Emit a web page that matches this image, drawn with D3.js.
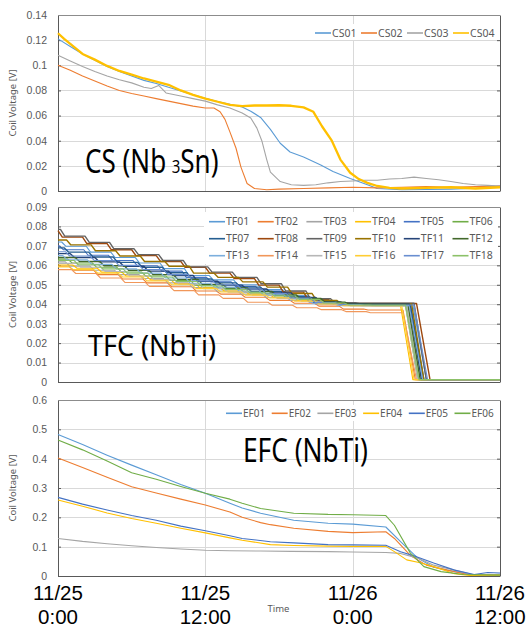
<!DOCTYPE html>
<html>
<head>
<meta charset="utf-8">
<script src="https://cdn.jsdelivr.net/npm/d3@7"></script>
<style>
  body { margin: 0; background: #fff; }
  svg { display: block; font-family: "Noto Sans", "DejaVu Sans", sans-serif; }
</style>
</head>
<body>
<div id="chart"></div>
<script>
// time axis: hours from 11/25 0:00
const xTickHours = [0, 12, 24, 36];
const xTickLabels = [["11/25", "0:00"], ["11/25", "12:00"], ["11/26", "0:00"], ["11/26", "12:00"]];

// ---- CS coils (Nb3Sn) : [hour, volt]
const csNames = ["CS01", "CS02", "CS03", "CS04"];
const csColors = ["#5B9BD5", "#ED7D31", "#A5A5A5", "#FFC000"];
const csYTicks = [0, 0.02, 0.04, 0.06, 0.08, 0.1, 0.12, 0.14];
const cs01 = [[0,.121],[1,.115],[2,.109],[3,.104],[4,.099],[5,.095],[6,.0915],[7,.088],[8,.0855],[9,.0825],[10,.0795],[11,.0765],[12,.0738],[13,.0712],[14,.069],[15,.0668],[15.7,.0635],[16.5,.0585],[17.3,.049],[18.1,.038],[18.9,.031],[20,.027],[21.4,.0207],[22.4,.0155],[23.8,.010],[25.2,.005],[26,.002],[28,.001],[30,.0012],[32,.0015],[34,.0022],[35,.003],[36,.004]];
const cs02 = [[0,.100],[0.5,.098],[1,.096],[2,.0915],[3,.0875],[4,.0835],[5,.080],[6,.0775],[7,.0755],[8,.0735],[9,.0715],[10,.0695],[11,.0675],[12,.066],[12.7,.066],[13.2,.063],[13.6,.057],[14,.047],[14.5,.034],[14.9,.019],[15.4,.006],[16,.002],[17,.001],[18,.0015],[20,.002],[22,.0025],[24,.003],[26,.0025],[28,.003],[30,.0035],[32,.003],[34,.0035],[36,.004]];
const cs03 = [[0,.108],[1,.1035],[2,.099],[3,.095],[4,.0915],[5,.0885],[6,.086],[7,.0825],[7.6,.0815],[8.2,.084],[8.8,.078],[9.5,.0765],[10,.0755],[11,.0735],[12,.0715],[13,.0685],[14,.066],[15,.062],[15.7,.058],[16.2,.050],[16.6,.040],[17,.025],[17.3,.015],[18.1,.0075],[19,.005],[20,.0045],[21,.005],[22,.0065],[23,.0075],[24,.008],[25,.0085],[26,.0085],[27,.0095],[28,.010],[29,.011],[30,.010],[31,.009],[32,.0075],[33,.006],[34,.005],[35,.0045],[36,.004]];
const cs04 = [[0,.1255],[0.5,.121],[1,.117],[2,.109],[3,.1045],[4,.0995],[5,.0955],[6,.0925],[7,.0895],[8,.087],[9,.0845],[10,.080],[11,.0765],[12,.0735],[13,.071],[14,.0685],[15,.0675],[16,.068],[17,.068],[18,.0682],[19,.0678],[20,.0665],[20.8,.063],[21.5,.0515],[22.3,.040],[23,.025],[23.8,.0145],[24.5,.0095],[25.2,.0065],[26,.004],[27,.0025],[28,.002],[30,.0025],[32,.003],[34,.002],[36,.003]];

// ---- TF coils (NbTi) : staircase values at tfHours, then drop
const tfNames = ["TF01","TF02","TF03","TF04","TF05","TF06","TF07","TF08","TF09","TF10","TF11","TF12","TF13","TF14","TF15","TF16","TF17","TF18"];
const tfColors = ["#5B9BD5","#ED7D31","#A5A5A5","#FFC000","#4472C4","#70AD47","#255E91","#9E480E","#636363","#997300","#264478","#43682B","#7CAFDD","#F1975A","#B7B7B7","#FFCD33","#698ED0","#8CC168"];
const tfYTicks = [0, 0.01, 0.02, 0.03, 0.04, 0.05, 0.06, 0.07, 0.08, 0.09];
const tfHours = [0, 2, 4, 6, 8, 10, 12, 14, 16, 18, 20, 22, 24, 26];
const tf01 = [.0720,.0698,.0668,.0640,.0612,.0583,.0548,.0525,.0500,.0475,.0445,.0415,.0400,.0398];
const tf02 = [.0595,.0575,.0552,.0530,.0510,.0490,.0468,.0452,.0436,.0420,.0405,.0390,.0375,.0370];
const tf03 = [.0618,.0596,.0575,.0552,.0532,.0510,.0486,.0468,.0452,.0436,.0420,.0402,.0393,.0392];
const tf04 = [.0602,.0585,.0565,.0545,.0525,.0505,.0485,.0468,.0452,.0436,.0420,.0404,.0395,.0393];
const tf05 = [.0700,.0680,.0652,.0625,.0598,.0570,.0538,.0515,.0492,.0468,.0440,.0412,.0400,.0399];
const tf06 = [.0632,.0612,.0590,.0566,.0545,.0522,.0498,.0480,.0462,.0445,.0428,.0408,.0398,.0397];
const tf07 = [.0690,.0668,.0643,.0615,.0590,.0562,.0530,.0510,.0488,.0465,.0438,.0410,.0401,.0400];
const tf08 = [.0778,.0745,.0712,.0680,.0650,.0620,.0590,.0560,.0532,.0498,.0462,.0425,.0406,.0404];
const tf09 = [.0785,.0750,.0718,.0685,.0655,.0625,.0592,.0565,.0538,.0505,.0468,.0428,.0408,.0405];
const tf10 = [.0730,.0705,.0675,.0648,.0620,.0595,.0560,.0538,.0515,.0488,.0455,.0420,.0403,.0402];
const tf11 = [.0660,.0640,.0618,.0595,.0570,.0548,.0518,.0498,.0478,.0458,.0435,.0412,.0403,.0402];
const tf12 = [.0640,.0620,.0598,.0575,.0552,.0528,.0502,.0484,.0466,.0448,.0430,.0410,.0400,.0399];
const tf13 = [.0650,.0628,.0605,.0582,.0560,.0535,.0508,.0488,.0468,.0448,.0428,.0405,.0395,.0393];
const tf14 = [.0578,.0558,.0535,.0512,.0492,.0470,.0448,.0430,.0410,.0395,.0382,.0372,.0362,.0356];
const tf15 = [.0610,.0590,.0568,.0545,.0525,.0503,.0480,.0462,.0446,.0430,.0415,.0400,.0391,.0390];
const tf16 = [.0592,.0578,.0560,.0540,.0520,.0500,.0480,.0463,.0447,.0432,.0416,.0402,.0393,.0392];
const tf17 = [.0670,.0648,.0625,.0600,.0578,.0552,.0520,.0500,.0478,.0455,.0432,.0408,.0398,.0396];
const tf18 = [.0625,.0603,.0582,.0560,.0540,.0517,.0494,.0476,.0458,.0442,.0425,.0406,.0396,.0395];
// per-coil step offset (h) so the stairs do not all line up
const tfStepShift = [0.3,0.9,0.6,1.2,0.1,0.8,0.5,0,0.2,0.7,1.0,1.4,0.4,1.1,1.5,0.9,0.6,1.3];
const tfDropStart = [28.9,28.1,28.4,27.9,28.7,28.3,28.7,29.2,29.0,28.8,28.6,28.5,28.6,28.1,28.3,28.0,29.0,28.3];
const tfDropEnd   = [30.0,29.1,29.4,28.9,29.7,29.3,29.8,30.3,30.0,29.8,29.6,29.5,29.7,29.2,29.3,29.0,30.1,29.4];
const tfTail = 0.0012;

// ---- EF coils (NbTi) : [hour, volt]
const efNames = ["EF01", "EF02", "EF03", "EF04", "EF05", "EF06"];
const efColors = ["#5B9BD5", "#ED7D31", "#A5A5A5", "#FFC000", "#4472C4", "#70AD47"];
const efYTicks = [0, 0.1, 0.2, 0.3, 0.4, 0.5, 0.6];
const ef01 = [[0,.482],[2,.448],[4,.412],[6,.378],[8,.345],[10,.312],[12,.282],[14,.248],[15,.232],[16.5,.214],[19.2,.190],[22,.180],[24,.177],[26.7,.167],[27.9,.117],[29.3,.061],[30.6,.030],[32.3,.015],[33.9,.003],[35,.004],[36,.006]];
const ef02 = [[0,.402],[2,.370],[4,.337],[6,.304],[8,.283],[10,.262],[12,.242],[14,.218],[15,.200],[16.5,.182],[17.3,.175],[19.2,.163],[22,.152],[24,.148],[26.7,.151],[27.4,.128],[28.7,.070],[30,.037],[31.7,.020],[33.4,.005],[35,.003],[36,.004]];
const ef03 = [[0,.128],[2,.118],[4,.110],[6,.103],[8,.097],[10,.092],[12,.088],[14,.086],[16.5,.085],[19,.084],[22,.083],[24,.082],[26.7,.080],[27.9,.077],[29.3,.061],[30.6,.037],[32.3,.020],[33.9,.003],[35,.004],[36,.005]];
const ef04 = [[0,.259],[2,.238],[4,.215],[6,.196],[8,.180],[10,.163],[12,.147],[14,.130],[15,.122],[17.3,.107],[19.2,.104],[22,.102],[24,.101],[26.7,.101],[27.4,.083],[28.4,.055],[29.5,.045],[30.6,.032],[32.3,.008],[33.5,.002],[36,.003]];
const ef05 = [[0,.268],[2,.245],[4,.225],[6,.206],[8,.190],[10,.170],[12,.154],[14,.137],[15,.128],[17.3,.117],[19.2,.113],[22,.107],[24,.106],[26.7,.105],[27.9,.083],[29.2,.066],[30.6,.044],[32.3,.020],[33.9,.005],[35,.012],[36,.010]];
const ef06 = [[0,.4635],[2,.430],[4,.392],[6,.352],[8,.330],[10,.305],[12,.282],[14,.262],[15,.248],[16.5,.230],[19.2,.214],[22,.210],[24,.209],[26.7,.206],[27.4,.173],[28.7,.078],[29.8,.032],[31.2,.015],[33,.005],[36,.003]];

const W = 527, H = 628;
const left = 58, right = 500;
const axisGray = "#595959", gridGray = "#d9d9d9";

const svg = d3.select("#chart").append("svg")
    .attr("width", W)
    .attr("height", H);

const x = d3.scaleLinear().domain([0, 36]).range([left, right]);

// Draws frame, grid, axes and lines for one panel
function drawPanel(top, bottom, yTicks, series, colors, widths) {
  const y = d3.scaleLinear().domain([0, yTicks[yTicks.length - 1]]).range([bottom, top]);
  const g = svg.append("g");

  // horizontal gridlines
  g.selectAll(".hgrid")
      .data(yTicks.slice(1, -1))
      .enter().append("line")
      .attr("x1", left).attr("x2", right)
      .attr("y1", function(d) { return Math.round(y(d)) + 0.5; })
      .attr("y2", function(d) { return Math.round(y(d)) + 0.5; })
      .attr("stroke", gridGray);

  // vertical gridlines
  g.selectAll(".vgrid")
      .data(xTickHours.slice(1, -1))
      .enter().append("line")
      .attr("x1", function(d) { return Math.round(x(d)) + 0.5; })
      .attr("x2", function(d) { return Math.round(x(d)) + 0.5; })
      .attr("y1", top).attr("y2", bottom)
      .attr("stroke", gridGray);

  // left axis with inside ticks
  const yAxis = g.append("g")
      .attr("transform", "translate(" + left + ",0)")
      .call(d3.axisLeft(y).tickValues(yTicks).tickSizeInner(-3).tickSizeOuter(0)
        .tickPadding(11).tickFormat(function(d) { return String(d); }));
  yAxis.select(".domain").attr("stroke", axisGray);
  yAxis.selectAll(".tick line").attr("stroke", axisGray);
  yAxis.selectAll("text").attr("fill", axisGray).style("font-size", "10.5px");

  // right axis (no labels)
  const yAxisR = g.append("g")
      .attr("transform", "translate(" + right + ",0)")
      .call(d3.axisRight(y).tickValues(yTicks).tickSizeInner(-3).tickSizeOuter(0).tickFormat(""));
  yAxisR.select(".domain").attr("stroke", axisGray);
  yAxisR.selectAll(".tick line").attr("stroke", axisGray);

  // top and bottom border
  g.append("line")
      .attr("x1", left).attr("x2", right).attr("y1", top + 0.5).attr("y2", top + 0.5)
      .attr("stroke", "#8c8c8c");
  g.append("line")
      .attr("x1", left).attr("x2", right).attr("y1", bottom + 0.5).attr("y2", bottom + 0.5)
      .attr("stroke", axisGray);

  // y title
  g.append("text")
      .attr("transform", "translate(16," + ((top + bottom) / 2) + ") rotate(-90)")
      .attr("text-anchor", "middle")
      .attr("fill", axisGray)
      .style("font-size", "9.5px")
      .text("Coil Voltage [V]");

  const line = d3.line()
      .x(function(d) { return x(d[0]); })
      .y(function(d) { return y(d[1]); });

  g.selectAll(".series")
      .data(series)
      .enter().append("path")
      .attr("fill", "none")
      .attr("stroke", function(d, i) { return colors[i]; })
      .attr("stroke-width", function(d, i) { return widths[i]; })
      .attr("stroke-linejoin", "round")
      .attr("d", line);
}

// Legend box with line samples, laid out in rows
function drawLegend(names, colors, x0, pitch, rowY, cols, fontSize, box) {
  const g = svg.append("g");
  g.append("rect")
      .attr("x", box[0]).attr("y", box[1]).attr("width", box[2]).attr("height", box[3])
      .attr("fill", "#fff");
  names.forEach(function(name, i) {
    const cx = x0 + (i % cols) * pitch;
    const cy = rowY[Math.floor(i / cols)];
    g.append("line")
        .attr("x1", cx).attr("x2", cx + 16)
        .attr("y1", cy).attr("y2", cy)
        .attr("stroke", colors[i])
        .attr("stroke-width", 1.6);
    g.append("text")
        .attr("x", cx + 17)
        .attr("y", cy)
        .attr("dy", "0.35em")
        .attr("fill", axisGray)
        .style("font-size", fontSize + "px")
        .text(name);
  });
}

// Big coil-type label, squeezed horizontally to the reference width
function bigLabel(x0, y0, width, size, parts) {
  const t = svg.append("g")
      .attr("transform", "translate(" + x0 + "," + y0 + ")")
    .append("text")
      .attr("fill", "#000");
  parts.forEach(function(p) {
    t.append("tspan")
        .attr("dx", p.dx || 0)
        .style("font-size", (p.size || size) + "px")
        .text(p.text);
  });
  const w = t.node().getComputedTextLength();
  t.attr("transform", "scale(" + (width / w) + ",1)");
}

// ---- CS panel
drawPanel(15, 191, csYTicks, [cs01, cs02, cs03, cs04], csColors, [1.1, 1.1, 1.1, 2.3]);
drawLegend(csNames, csColors, 315, 46, [33], 4, 10.5, [310, 24, 188, 16]);
bigLabel(85, 173, 128, 33, [{text: "CS (Nb"}, {text: "3", size: 19, dx: 7}, {text: "Sn)"}]);

// ---- TF panel: staircase points built from the read values
const tfSeries = [tf01, tf02, tf03, tf04, tf05, tf06, tf07, tf08, tf09, tf10, tf11, tf12, tf13, tf14, tf15, tf16, tf17, tf18];
const tfPoints = tfSeries.map(function(vals, k) {
  const pts = [[0, vals[0]]];
  vals.forEach(function(v, i) {
    if (i === 0) return;
    const h = Math.min(tfHours[i] - 2 + tfStepShift[k], tfHours[i]);
    pts.push([h, vals[i - 1]]);
    pts.push([h + 0.35, v]);
  });
  pts.push([tfDropStart[k], vals[vals.length - 1]]);
  pts.push([tfDropEnd[k], tfTail]);
  pts.push([36, tfTail]);
  return pts;
});
drawPanel(207, 382, tfYTicks, tfPoints, tfColors, tfColors.map(function(c, i) { return (i >= 6 && i < 12) ? 1.4 : 1.1; }));
drawLegend(tfNames, tfColors, 209, 48.7, [221.7, 238.7, 255.7], 6, 10.5, [204, 212, 294, 52]);
bigLabel(88, 356, 128, 29, [{text: "TFC (NbTi)"}]);

// ---- EF panel
drawPanel(400, 576, efYTicks, [ef01, ef02, ef03, ef04, ef05, ef06], efColors, [1.1, 1.1, 1.1, 1.1, 1.1, 1.1]);
drawLegend(efNames, efColors, 226, 45.7, [413.3], 6, 10, [221, 405, 276, 16]);
bigLabel(243, 461.5, 125, 33, [{text: "EFC (NbTi)"}]);

// x tick labels (bottom panel only), two lines each
const xRows = [600, 623.5];
xRows.forEach(function(yy, r) {
  svg.selectAll(".xlabel" + r)
      .data(xTickHours)
      .enter().append("text")
      .attr("x", function(d) { return x(d); })
      .attr("y", yy)
      .attr("text-anchor", "middle")
      .style("font-family", "'Liberation Sans', Arial, sans-serif")
      .style("font-size", "20.5px")
      .attr("fill", "#000")
      .text(function(d, i) { return xTickLabels[i][r]; });
});

svg.append("text")
    .attr("x", 278.5).attr("y", 611.5)
    .attr("text-anchor", "middle")
    .attr("fill", axisGray)
    .style("font-size", "9.5px")
    .text("Time");
</script>
</body>
</html>
